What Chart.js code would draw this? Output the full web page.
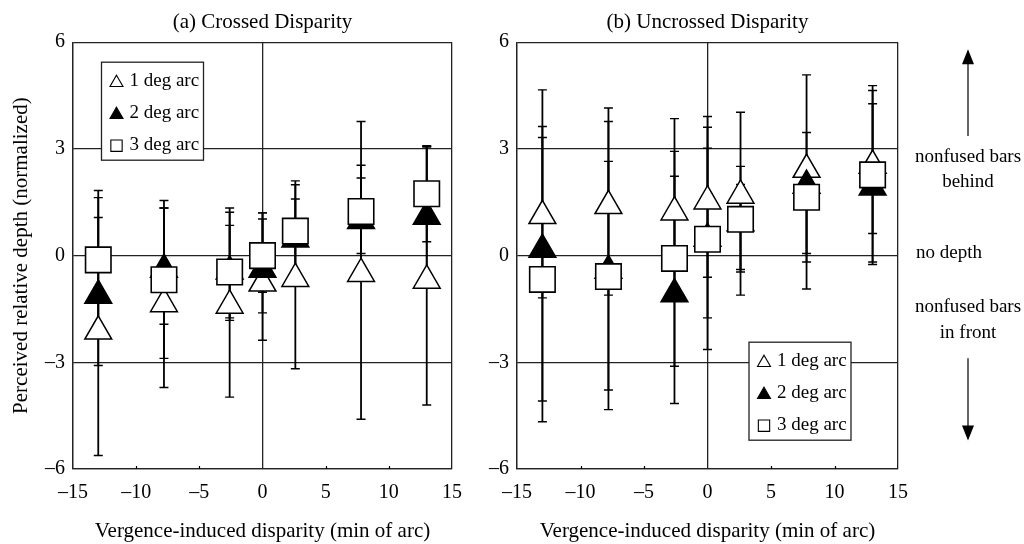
<!DOCTYPE html>
<html>
<head>
<meta charset="utf-8">
<script src="https://cdn.jsdelivr.net/npm/chart.js@4.4.1/dist/chart.umd.min.js"></script>
<style>
html, body { margin: 0; padding: 0; background: #fff; }
#wrap { position: relative; width: 1024px; height: 544px; }
#left { position: absolute; left: 0; top: 0; }
#right { position: absolute; left: 480px; top: 0; }
</style>
</head>
<body>
<div id="wrap">
  <canvas id="left" width="480" height="544"></canvas>
  <canvas id="right" width="544" height="544"></canvas>
</div>
<script>
// disparity positions (min of arc)
var disparity = [-13, -7.8, -2.6, 0, 2.6, 7.8, 13];
var xTicks = [-15, -10, -5, 0, 5, 10, 15];
var yTicks = [-6, -3, 0, 3, 6];
var seriesNames = ['1 deg arc', '2 deg arc', '3 deg arc'];

// (a) crossed disparity
var crossed1 = [-2.13, -1.36, -1.40, -0.78, -0.65, -0.51, -0.70];
var crossed1Hi = [1.83, 1.55, 1.22, 1.03, 1.59, 3.77, 3.05];
var crossed1Lo = [-5.62, -3.71, -3.98, -2.38, -3.18, -4.60, -4.20];
var crossed2 = [-1.12, -0.39, -0.44, -0.39, 0.46, 0.98, 1.10];
var crossed2Hi = [1.07, 1.34, 0.85, 1.20, 1.99, 2.18, 3.09];
var crossed2Lo = [-3.09, -1.93, -1.82, -1.61, -0.40, 0.06, 0.39];
var crossed3 = [-0.12, -0.68, -0.46, 0.00, 0.69, 1.24, 1.74];
var crossed3Hi = [1.63, 1.34, 1.34, 1.20, 2.10, 2.54, 3.07];
var crossed3Lo = [-1.90, -2.89, -1.75, -1.03, -0.50, -0.30, -0.60];

// (b) uncrossed disparity
var uncrossed1 = [1.12, 1.40, 1.22, 1.53, 1.69, 2.42, 2.53];
var uncrossed1Hi = [4.66, 4.15, 3.85, 3.91, 4.03, 5.08, 4.78];
var uncrossed1Lo = [-4.67, -1.11, -3.11, -0.61, -0.39, -0.18, -0.18];
var uncrossed2 = [0.17, -0.42, -1.08, 0.48, 0.92, 1.97, 1.92];
var uncrossed2Hi = [3.63, 3.77, 2.23, 3.61, 2.51, 3.46, 4.27];
var uncrossed2Lo = [-4.09, -4.33, -4.16, -2.64, -1.11, 0.06, 0.62];
var uncrossed3 = [-0.67, -0.59, -0.08, 0.46, 1.02, 1.64, 2.27];
var uncrossed3Hi = [3.32, 2.65, 2.93, 3.02, 2.00, 2.30, 4.64];
var uncrossed3Lo = [-1.19, -3.78, -0.90, -1.75, -0.46, -0.94, -0.25];

var serif = '"Liberation Serif", "Times New Roman", serif';
var lineCol = '#222';

function pts(ys) {
    return disparity.map(function(x, i) { return {x: x, y: ys[i]}; });
}
function dash(v) {
    return v < 0 ? '\u2013' + Math.abs(v) : String(v);
}

var errorBars = {
    id: 'errorBars',
    beforeDatasetsDraw: function(chart) {
        var ctx = chart.ctx, x = chart.scales.x, y = chart.scales.y, a = chart.chartArea;
        ctx.save();
        ctx.strokeStyle = '#000';
        // little inner ticks on the bottom axis
        ctx.lineWidth = 1.2;
        ctx.beginPath();
        [-10, -5, 5, 10].forEach(function(v) {
            var px = Math.round(x.getPixelForValue(v)) + 0.5;
            ctx.moveTo(px, a.bottom); ctx.lineTo(px, a.bottom - 3);
        });
        ctx.stroke();
        chart.data.datasets.forEach(function(ds) {
            ds.data.forEach(function(p, i) {
                var px = x.getPixelForValue(p.x);
                var hi = y.getPixelForValue(ds.errHi[i]);
                var lo = y.getPixelForValue(ds.errLo[i]);
                ctx.lineWidth = 1.8;
                ctx.beginPath();
                ctx.moveTo(px, hi); ctx.lineTo(px, lo);
                ctx.stroke();
                ctx.lineWidth = 1.4;
                ctx.beginPath();
                ctx.moveTo(px - 4.5, hi); ctx.lineTo(px + 4.5, hi);
                ctx.moveTo(px - 4.5, lo); ctx.lineTo(px + 4.5, lo);
                ctx.stroke();
            });
        });
        ctx.restore();
    }
};

var boxLegend = {
    id: 'boxLegend',
    afterDraw: function(chart, args, opts) {
        var ctx = chart.ctx, a = chart.chartArea;
        var bx = a.left + opts.dx, by = a.top + opts.dy;
        ctx.save();
        ctx.fillStyle = '#fff';
        ctx.fillRect(bx, by, 102, 98);
        ctx.strokeStyle = lineCol;
        ctx.lineWidth = 1.3;
        ctx.strokeRect(bx, by, 102, 98);
        ctx.font = '19px ' + serif;
        ctx.textBaseline = 'middle';
        chart.data.datasets.forEach(function(ds, i) {
            var cy = by + 19 + i * 32;
            ctx.fillStyle = ds.pointBackgroundColor;
            ctx.strokeStyle = '#000';
            ctx.lineWidth = 1.1;
            Chart.helpers.drawPoint(ctx, {
                pointStyle: ds.pointStyle,
                radius: ds.pointStyle === 'rect' ? 8 : 7.5,
                borderWidth: 1.1
            }, bx + 15, cy + (ds.pointStyle === 'rect' ? 0.5 : 1.5));
            ctx.fillStyle = '#000';
            ctx.fillText(ds.label, bx + 28, cy);
        });
        ctx.restore();
    }
};

var sideNotes = {
    id: 'sideNotes',
    afterDraw: function(chart) {
        var ctx = chart.ctx, y = chart.scales.y;
        var cx = 488;
        ctx.save();
        ctx.fillStyle = '#000';
        ctx.strokeStyle = '#000';
        ctx.font = '19px ' + serif;
        ctx.textBaseline = 'middle';
        ctx.textAlign = 'center';
        var y3 = y.getPixelForValue(3), y0 = y.getPixelForValue(0), ym3 = y.getPixelForValue(-3);
        ctx.fillText('nonfused bars', cx, y3 + 8);
        ctx.fillText('behind', cx, y3 + 33);
        ctx.textAlign = 'left';
        ctx.fillText('no depth', 436, y0 - 3);
        ctx.textAlign = 'center';
        ctx.fillText('nonfused bars', cx, ym3 - 55);
        ctx.fillText('in front', cx, ym3 - 29);
        // arrows
        ctx.lineWidth = 1.2;
        ctx.beginPath();
        ctx.moveTo(cx, y3 - 13); ctx.lineTo(cx, y.getPixelForValue(5.5));
        ctx.moveTo(cx, ym3 - 4); ctx.lineTo(cx, y.getPixelForValue(-5.1));
        ctx.stroke();
        var up = y.getPixelForValue(5.8), dn = y.getPixelForValue(-5.2);
        ctx.beginPath();
        ctx.moveTo(cx, up); ctx.lineTo(cx - 6, up + 15); ctx.lineTo(cx + 6, up + 15); ctx.closePath();
        ctx.moveTo(cx, dn); ctx.lineTo(cx - 6, dn - 15); ctx.lineTo(cx + 6, dn - 15); ctx.closePath();
        ctx.fill();
        ctx.restore();
    }
};

function makePanel(id, title, s1, s2, s3, opt) {
    var datasets = [
        {label: seriesNames[0], data: pts(s1[0]), errHi: s1[1], errLo: s1[2],
         pointStyle: 'triangle', pointRadius: 15.5, pointBackgroundColor: '#fff',
         pointBorderColor: '#000', pointBorderWidth: 1.5, order: 3},
        {label: seriesNames[1], data: pts(s2[0]), errHi: s2[1], errLo: s2[2],
         pointStyle: 'triangle', pointRadius: 15.5, pointBackgroundColor: '#000',
         pointBorderColor: '#000', pointBorderWidth: 1.5, order: 2},
        {label: seriesNames[2], data: pts(s3[0]), errHi: s3[1], errLo: s3[2],
         pointStyle: 'rect', pointRadius: 18, pointBackgroundColor: '#fff',
         pointBorderColor: '#000', pointBorderWidth: 1.6, order: 1}
    ];
    var plugins = [errorBars, boxLegend];
    if (opt.notes) plugins.push(sideNotes);
    return new Chart(document.getElementById(id), {
        type: 'scatter',
        data: {datasets: datasets},
        plugins: plugins,
        options: {
            responsive: false,
            animation: false,
            events: [],
            layout: {padding: {top: 0, bottom: 0, left: 0, right: opt.padRight}},
            plugins: {
                legend: {display: false},
                tooltip: {enabled: false},
                title: {
                    display: true, text: title, fullSize: false, color: '#000',
                    font: {family: serif, size: 21, weight: 'normal'},
                    padding: {top: 10, bottom: 7}
                },
                boxLegend: {dx: opt.legendX, dy: opt.legendY}
            },
            scales: {
                x: {
                    type: 'linear', min: -15, max: 15,
                    afterBuildTicks: function(s) { s.ticks = xTicks.map(function(v) { return {value: v}; }); },
                    afterFit: function(s) { s.height = 75; },
                    ticks: {callback: dash, color: '#000', padding: 12, font: {family: serif, size: 20}},
                    grid: {
                        drawTicks: false, lineWidth: 1.3,
                        color: function(c) { return (c.tick && (c.tick.value === 0 || Math.abs(c.tick.value) === 15)) ? lineCol : 'rgba(0,0,0,0)'; }
                    },
                    border: {display: true, color: lineCol, width: 1.3},
                    title: {
                        display: true, text: 'Vergence-induced disparity (min of arc)', color: '#000',
                        font: {family: serif, size: 21}, padding: {top: 0, bottom: 0}
                    }
                },
                y: {
                    type: 'linear', min: -6, max: 6,
                    afterBuildTicks: function(s) { s.ticks = yTicks.map(function(v) { return {value: v}; }); },
                    afterFit: function(s) { s.width = opt.yWidth; },
                    ticks: {callback: dash, color: '#000', padding: 8, font: {family: serif, size: 20}},
                    grid: {drawTicks: false, lineWidth: 1.3, color: lineCol},
                    border: {display: true, color: lineCol, width: 1.3},
                    title: {
                        display: opt.yTitle, text: 'Perceived relative depth (normalized)', color: '#000',
                        font: {family: serif, size: 21}, padding: {top: 9, bottom: 0}
                    }
                }
            }
        }
    });
}

makePanel('left', '(a) Crossed Disparity',
    [crossed1, crossed1Hi, crossed1Lo],
    [crossed2, crossed2Hi, crossed2Lo],
    [crossed3, crossed3Hi, crossed3Lo],
    {padRight: 28, yWidth: 73, yTitle: true, legendX: 28.5, legendY: 20, notes: false});

makePanel('right', '(b) Uncrossed Disparity',
    [uncrossed1, uncrossed1Hi, uncrossed1Lo],
    [uncrossed2, uncrossed2Hi, uncrossed2Lo],
    [uncrossed3, uncrossed3Hi, uncrossed3Lo],
    {padRight: 126, yWidth: 37, yTitle: false, legendX: 232, legendY: 300, notes: true});
</script>
</body>
</html>
